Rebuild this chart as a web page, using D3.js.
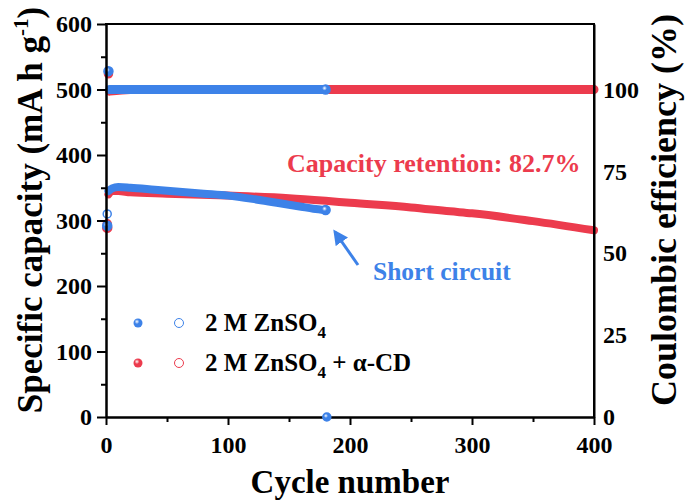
<!DOCTYPE html>
<html>
<head>
<meta charset="utf-8">
<script src="https://cdn.jsdelivr.net/npm/d3@7/dist/d3.min.js"></script>
<style>
body { margin: 0; background: #fff; }
svg text { font-family: "Liberation Serif", "DejaVu Serif", Times, serif !important; font-weight: bold; }
</style>
</head>
<body>
<script>
// cycling data: [cycle, value]
var blueCapacity = [[2,345],[5,349],[10,351],[20,350],[40,347],[60,344],[80,341],[100,338],[120,333],[140,327],[160,321],[170,318],[180,316]];
var redCapacity = [[2,340],[5,345],[10,345],[20,343],[50,341],[100,338],[150,334],[180,330],[200,327],[250,320],[282,314],[300,311],[350,299],[400,285]];
var blueCE = [[3,100],[20,100],[100,100],[180,100]];
var redCE = [[3,99.5],[20,100],[200,100],[400,100]];
// first cycles and the short circuit, drawn as single markers
var blueFirstCap = [[1,292]];
var redFirstCap = [[1,289]];
var blueFirstCE = [[1,62],[2,105.6]];
var redFirstCE = [[1,59],[2,104.8]];
var shortCircuit = [[181,0]];

var xTicks = [0,100,200,300,400];
var xMinor = [50,150,250,350];
var yTicks = [0,100,200,300,400,500,600];
var yMinor = [50,150,250,350,450,550];
var yRTicks = [0,25,50,75,100];

var blue = '#3d82e8';
var red = '#ec3b4d';
var serif = '"Liberation Serif", "DejaVu Serif", Times, serif';

var W = 687, H = 501;
var svg = d3.select('body').append('svg').attr('width', W).attr('height', H)
    .attr('font-family', serif).attr('font-weight', 'bold');

var defs = svg.append('defs');
function ball(id, col){
    var g = defs.append('radialGradient').attr('id', id).attr('cx', '38%').attr('cy', '35%').attr('r', '60%');
    g.append('stop').attr('offset', '0%').attr('stop-color', '#fff');
    g.append('stop').attr('offset', '45%').attr('stop-color', col);
    g.append('stop').attr('offset', '100%').attr('stop-color', col);
}
ball('ballBlue', blue);
ball('ballRed', red);
defs.append('marker').attr('id', 'head').attr('viewBox', '0 0 10 10')
    .attr('refX', 8).attr('refY', 5).attr('markerWidth', 5).attr('markerHeight', 5)
    .attr('orient', 'auto').attr('markerUnits', 'strokeWidth')
    .append('path').attr('d', 'M0,0 L10,5 L0,10 Z').attr('fill', blue);

var x = d3.scaleLinear().domain([0,400]).range([106,594]);
var y = d3.scaleLinear().domain([0,600]).range([417,24]);
var yR = d3.scaleLinear().domain([0,120]).range([417,24]);

var capLine = d3.line().x(d=>x(d[0])).y(d=>y(d[1])).curve(d3.curveMonotoneX);
var ceLine = d3.line().x(d=>x(d[0])).y(d=>yR(d[1])).curve(d3.curveMonotoneX);

function band(data, gen, col, w){
    svg.append('path').attr('d', gen(data))
        .attr('fill', 'none').attr('stroke', col)
        .attr('stroke-width', w).attr('stroke-linecap', 'round').attr('stroke-linejoin', 'round');
}

// red series underneath, blue on top
band(redCE, ceLine, red, 9);
band(redCapacity, capLine, red, 8);
band(blueCE, ceLine, blue, 9);
band(blueCapacity, capLine, blue, 8);

function dots(data, sc, col, fill, r){
    svg.append('g').selectAll('circle').data(data).enter().append('circle')
        .attr('cx', d=>x(d[0])).attr('cy', d=>sc(d[1])).attr('r', r)
        .attr('fill', fill).attr('stroke', col).attr('stroke-width', 1.5);
}
dots(redFirstCE, yR, red, red, 4);
dots(redFirstCap, y, red, 'url(#ballRed)', 4.5);
dots([blueFirstCE[1]], yR, blue, 'url(#ballBlue)', 4.5);
dots([blueFirstCE[0]], yR, blue, '#fff', 4);
dots(blueFirstCap, y, blue, 'url(#ballBlue)', 4.5);
// last blue markers carry the highlight
dots([blueCE[blueCE.length-1]], yR, blue, 'url(#ballBlue)', 4.5);
dots([blueCapacity[blueCapacity.length-1]], y, blue, 'url(#ballBlue)', 4.5);

// axes
function styleAxis(g){
    g.attr('font-family', serif).attr('font-size', 24).attr('font-weight', 'bold');
    g.selectAll('path, line').attr('stroke', '#000').attr('stroke-width', 2);
    g.selectAll('text').attr('fill', '#000');
}
svg.append('g').attr('transform', 'translate(0,417)')
    .call(d3.axisBottom(x).tickValues(xMinor).tickSize(5).tickSizeOuter(0).tickFormat(''))
    .call(styleAxis);
svg.append('g').attr('transform', 'translate(0,417)')
    .call(d3.axisBottom(x).tickValues(xTicks).tickSize(8).tickSizeOuter(0).tickPadding(11).tickFormat(d=>d))
    .call(styleAxis);
svg.append('g').attr('transform', 'translate(106,0)')
    .call(d3.axisLeft(y).tickValues(yMinor).tickSize(5).tickSizeOuter(0).tickFormat(''))
    .call(styleAxis);
svg.append('g').attr('transform', 'translate(106,0)')
    .call(d3.axisLeft(y).tickValues(yTicks).tickSize(9).tickSizeOuter(0).tickPadding(5).tickFormat(d=>d))
    .call(styleAxis);
svg.append('g').attr('transform', 'translate(594,0)')
    .call(d3.axisRight(yR).tickValues(yRTicks).tickSize(0).tickSizeOuter(0).tickPadding(9).tickFormat(d=>d))
    .call(styleAxis);
svg.append('line').attr('x1', 105).attr('x2', 595).attr('y1', 24).attr('y2', 24)
    .attr('stroke', '#000').attr('stroke-width', 2);
svg.append('line').attr('x1', 594).attr('x2', 594).attr('y1', 24).attr('y2', 417)
    .attr('stroke', '#000').attr('stroke-width', 2);

dots(shortCircuit, y, blue, 'url(#ballBlue)', 4);

// axis titles
svg.append('text').attr('x', 350).attr('y', 493).attr('text-anchor', 'middle')
    .attr('font-size', '33px').text('Cycle number');

var yl = svg.append('text').attr('transform', 'translate(42,210) rotate(-90)')
    .attr('text-anchor', 'middle').attr('font-size', '35px');
yl.append('tspan').text('Specific capacity (mA h g');
yl.append('tspan').attr('font-size', '21px').attr('dy', -14).text('-1');
yl.append('tspan').attr('dy', 14).text(')');

svg.append('text').attr('transform', 'translate(676,210) rotate(-90)')
    .attr('text-anchor', 'middle').attr('font-size', '36px').text('Coulombic efficiency (%)');

// annotations
svg.append('text').attr('x', 287).attr('y', 172).attr('font-size', '26px')
    .attr('fill', red).text('Capacity retention: 82.7%');
svg.append('text').attr('x', 373).attr('y', 280).attr('font-size', '25.5px')
    .attr('fill', blue).text('Short circuit');
svg.append('line').attr('x1', 358).attr('y1', 265).attr('x2', 335).attr('y2', 232)
    .attr('stroke', blue).attr('stroke-width', 3).attr('marker-end', 'url(#head)');

// legend
var legend = [
    {label: '2 M ZnSO', sub: '4', rest: '', col: blue, ball: 'url(#ballBlue)'},
    {label: '2 M ZnSO', sub: '4', rest: ' + \u03b1-CD', col: red, ball: 'url(#ballRed)'}
];
legend.forEach(function(l, i){
    var ly = 323 + i*40;
    svg.append('circle').attr('cx', 138).attr('cy', ly).attr('r', 4.5).attr('fill', l.ball);
    svg.append('circle').attr('cx', 179).attr('cy', ly).attr('r', 4.5)
        .attr('fill', '#fff').attr('stroke', l.col).attr('stroke-width', 1);
    var t = svg.append('text').attr('x', 205).attr('y', ly + 8).attr('font-size', '25px');
    t.append('tspan').text(l.label);
    t.append('tspan').attr('font-size', '17px').attr('dy', 7).text(l.sub);
    if (l.rest) t.append('tspan').attr('dy', -7).text(l.rest);
});
</script>
</body>
</html>
